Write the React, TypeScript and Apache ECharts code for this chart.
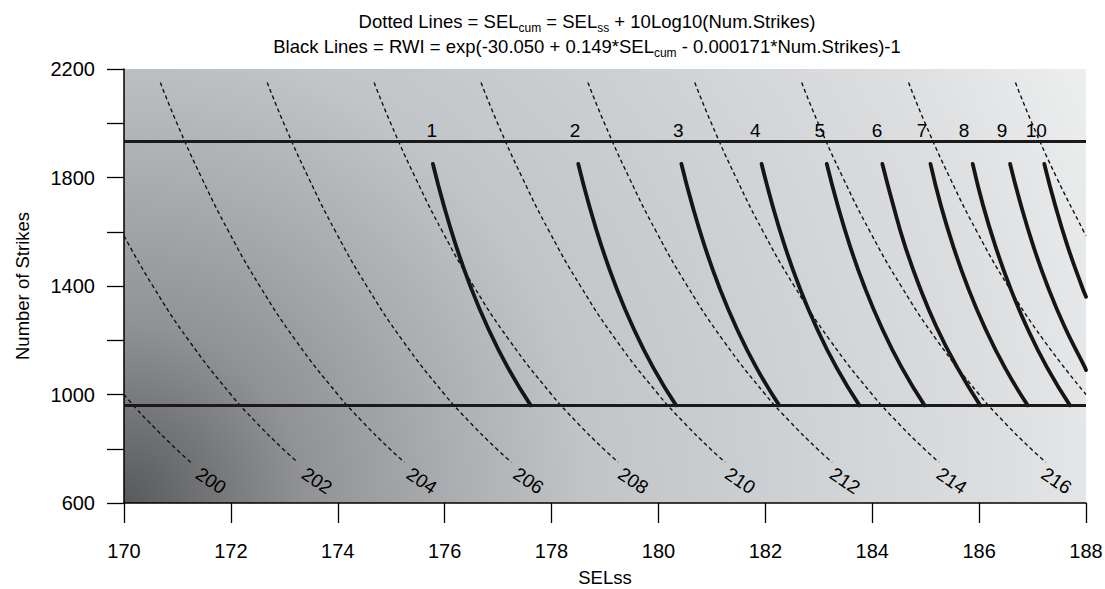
import React, { useEffect, useRef } from "react";
import * as echarts from "echarts";

// ---- axes ----
const X_MIN = 170;
const X_MAX = 188;
const X_STEP = 2;
const Y_MIN = 600;
const Y_MAX = 2200;
const Y_STEP = 200;
const Y_LABEL_STEP = 400;

// ---- horizontal limit lines (Number of Strikes) ----
const strikeLimits = [1933, 960];

// ---- dotted lines: SELcum levels, [SELss, Num.Strikes] ----
const sel200 = [[170.0, 1000], [170.22, 950], [170.46, 900], [170.97, 800], [171.25, 750]];
const sel202 = [[170.0, 1585], [170.54, 1400], [171.21, 1200], [172.0, 1000], [172.46, 900], [172.97, 800], [173.25, 750]];
const sel204 = [[170.68, 2150], [170.99, 2000], [171.45, 1800], [171.96, 1600], [172.54, 1400], [173.21, 1200], [174.0, 1000], [174.46, 900], [174.97, 800], [175.25, 750]];
const sel206 = [[172.68, 2150], [172.99, 2000], [173.45, 1800], [173.96, 1600], [174.54, 1400], [175.21, 1200], [176.0, 1000], [176.46, 900], [176.97, 800], [177.25, 750]];
const sel208 = [[174.68, 2150], [174.99, 2000], [175.45, 1800], [175.96, 1600], [176.54, 1400], [177.21, 1200], [178.0, 1000], [178.46, 900], [178.97, 800], [179.25, 750]];
const sel210 = [[176.68, 2150], [176.99, 2000], [177.45, 1800], [177.96, 1600], [178.54, 1400], [179.21, 1200], [180.0, 1000], [180.46, 900], [180.97, 800], [181.25, 750]];
const sel212 = [[178.68, 2150], [178.99, 2000], [179.45, 1800], [179.96, 1600], [180.54, 1400], [181.21, 1200], [182.0, 1000], [182.46, 900], [182.97, 800], [183.25, 750]];
const sel214 = [[180.68, 2150], [180.99, 2000], [181.45, 1800], [181.96, 1600], [182.54, 1400], [183.21, 1200], [184.0, 1000], [184.46, 900], [184.97, 800], [185.25, 750]];
const sel216 = [[182.68, 2150], [182.99, 2000], [183.45, 1800], [183.96, 1600], [184.54, 1400], [185.21, 1200], [186.0, 1000], [186.46, 900], [186.97, 800], [187.25, 750]];
const sel218 = [[184.68, 2150], [184.99, 2000], [185.45, 1800], [185.96, 1600], [186.54, 1400], [187.21, 1200], [188.0, 1000]];
const sel220 = [[186.68, 2150], [186.99, 2000], [187.45, 1800], [187.96, 1600], [188.0, 1585]];
const dottedCurves = [sel200, sel202, sel204, sel206, sel208, sel210, sel212, sel214, sel216, sel218, sel220];

// dotted line labels
const dottedLabelNames = ["200", "202", "204", "206", "208", "210", "212", "214", "216"];
const dottedLabelX = [171.63, 173.61, 175.57, 177.57, 179.53, 181.53, 183.49, 185.49, 187.45];
const dottedLabelY = 682;

// ---- black lines: RWI levels, [SELss, Num.Strikes] ----
const rwi1 = [[175.78, 1850], [175.98, 1700], [176.21, 1550], [176.48, 1400], [176.8, 1250], [177.18, 1100], [177.61, 960]];
const rwi2 = [[178.5, 1850], [178.7, 1700], [178.93, 1550], [179.2, 1400], [179.52, 1250], [179.9, 1100], [180.33, 960]];
const rwi3 = [[180.43, 1850], [180.63, 1700], [180.86, 1550], [181.13, 1400], [181.45, 1250], [181.83, 1100], [182.26, 960]];
const rwi4 = [[181.93, 1850], [182.13, 1700], [182.36, 1550], [182.63, 1400], [182.95, 1250], [183.33, 1100], [183.76, 960]];
const rwi5 = [[183.15, 1850], [183.35, 1700], [183.58, 1550], [183.85, 1400], [184.17, 1250], [184.55, 1100], [184.98, 960]];
const rwi6 = [[184.19, 1850], [184.39, 1700], [184.61, 1550], [184.88, 1400], [185.2, 1250], [185.59, 1100], [186.02, 960]];
const rwi7 = [[185.09, 1850], [185.28, 1700], [185.51, 1550], [185.78, 1400], [186.1, 1250], [186.48, 1100], [186.91, 960]];
const rwi8 = [[185.88, 1850], [186.07, 1700], [186.3, 1550], [186.57, 1400], [186.89, 1250], [187.27, 1100], [187.7, 960]];
const rwi9 = [[186.58, 1850], [186.78, 1700], [187.01, 1550], [187.28, 1400], [187.6, 1250], [187.98, 1100], [188.0, 1090]];
const rwi10 = [[187.22, 1850], [187.42, 1700], [187.65, 1550], [187.92, 1400], [188.0, 1360]];
const rwiCurves = [rwi1, rwi2, rwi3, rwi4, rwi5, rwi6, rwi7, rwi8, rwi9, rwi10];

// RWI labels
const rwiLabelNames = ["1", "2", "3", "4", "5", "6", "7", "8", "9", "10"];
const rwiLabelX = [175.76, 178.44, 180.37, 181.81, 183.02, 184.09, 184.93, 185.72, 186.43, 187.07];
const rwiLabelY = 1972;

const FONT = "'Liberation Sans', Arial, Helvetica, sans-serif";

export default function App() {
  const ref = useRef<HTMLDivElement>(null);

  useEffect(() => {
    if (!ref.current) return;
    const chart = echarts.init(ref.current, undefined, { renderer: "svg" });

    const series: any[] = [];

    dottedCurves.forEach((pts) => {
      series.push({
        type: "line",
        data: pts,
        smooth: true,
        symbol: "none",
        silent: true,
        z: 2,
        lineStyle: { color: "#111", width: 1.4, type: [4, 3] },
      });
    });

    rwiCurves.forEach((pts) => {
      series.push({
        type: "line",
        data: pts,
        smooth: true,
        symbol: "none",
        silent: true,
        z: 3,
        lineStyle: { color: "#151515", width: 3.8, cap: "round" },
      });
    });

    series.push({
      type: "line",
      data: [],
      silent: true,
      z: 4,
      markLine: {
        silent: true,
        symbol: ["none", "none"],
        label: { show: false },
        lineStyle: { color: "#1a1a1a", width: 3, type: "solid" },
        data: strikeLimits.map((v) => ({ yAxis: v })),
      },
    });

    const labelStyle = {
      show: true,
      position: "inside",
      color: "#000",
      opacity: 1,
      fontSize: 19,
      fontFamily: FONT,
      textBorderWidth: 0,
      formatter: (p: any) => p.value[2],
    };

    series.push({
      type: "scatter",
      symbolSize: 0,
      silent: true,
      z: 5,
      itemStyle: { color: "#000", opacity: 1 },
      data: rwiLabelX.map((x, i) => [x, rwiLabelY, rwiLabelNames[i]]),
      label: { ...labelStyle },
    });

    series.push({
      type: "scatter",
      symbolSize: 0,
      silent: true,
      z: 5,
      itemStyle: { color: "#000", opacity: 1 },
      data: dottedLabelX.map((x, i) => [x, dottedLabelY, dottedLabelNames[i]]),
      label: { ...labelStyle, rotate: -34 },
    });

    chart.setOption({
      animation: false,
      title: {
        left: 582,
        top: 4,
        textAlign: "center",
        text:
          "{a|Dotted Lines = SEL}{s|cum}{a| = SEL}{s|ss}{a| + 10Log10(Num.Strikes)}\n" +
          "{a|Black Lines = RWI = exp(-30.050 + 0.149*SEL}{s|cum}{a| - 0.000171*Num.Strikes)-1}",
        textStyle: {
          fontWeight: "normal",
          rich: {
            a: { fontSize: 18.5, lineHeight: 25, fontFamily: FONT, color: "#000", fontWeight: "normal" },
            s: { fontSize: 12, lineHeight: 12, fontFamily: FONT, color: "#000", fontWeight: "normal", verticalAlign: "bottom" },
          },
        },
      },
      grid: {
        left: 124,
        right: 19,
        top: 69,
        bottom: 86,
        show: true,
        borderWidth: 0,
        outerBoundsMode: "none",
        containLabel: false,
        backgroundColor: new echarts.graphic.RadialGradient(
          124,
          503,
          1060,
          [
            { offset: 0, color: "#58595b" },
            { offset: 0.17, color: "#909295" },
            { offset: 0.31, color: "#abaeb1" },
            { offset: 0.44, color: "#c2c5c8" },
            { offset: 0.58, color: "#cbced1" },
            { offset: 0.83, color: "#dcdee0" },
            { offset: 1, color: "#eeefef" },
          ],
          true
        ),
      },
      xAxis: {
        type: "value",
        min: X_MIN,
        max: X_MAX,
        interval: X_STEP,
        name: "SELss",
        nameLocation: "middle",
        nameGap: 65,
        nameTextStyle: { fontSize: 18.5, fontFamily: FONT, color: "#000" },
        axisLine: { show: true, onZero: false, lineStyle: { color: "#000", width: 1.5 } },
        axisTick: { show: true, length: 20, lineStyle: { color: "#000", width: 1.3 } },
        axisLabel: { margin: 38, fontSize: 20, fontFamily: FONT, color: "#000" },
        splitLine: { show: false },
      },
      yAxis: {
        type: "value",
        min: Y_MIN,
        max: Y_MAX,
        interval: Y_STEP,
        name: "Number of Strikes",
        nameLocation: "middle",
        nameGap: 92,
        nameTextStyle: { fontSize: 18.5, fontFamily: FONT, color: "#000" },
        axisLine: { show: true, onZero: false, lineStyle: { color: "#000", width: 1.5 } },
        axisTick: { show: true, length: 17, lineStyle: { color: "#000", width: 1.3 } },
        axisLabel: {
          margin: 29,
          fontSize: 20,
          fontFamily: FONT,
          color: "#000",
          formatter: (v: number) => ((v - Y_MIN) % Y_LABEL_STEP === 0 ? String(v) : ""),
        },
        splitLine: { show: false },
      },
      series,
    });

    return () => chart.dispose();
  }, []);

  return (
    <div
      ref={ref}
      style={{ position: "absolute", left: 0, top: 0, width: 1105, height: 589 }}
    />
  );
}
